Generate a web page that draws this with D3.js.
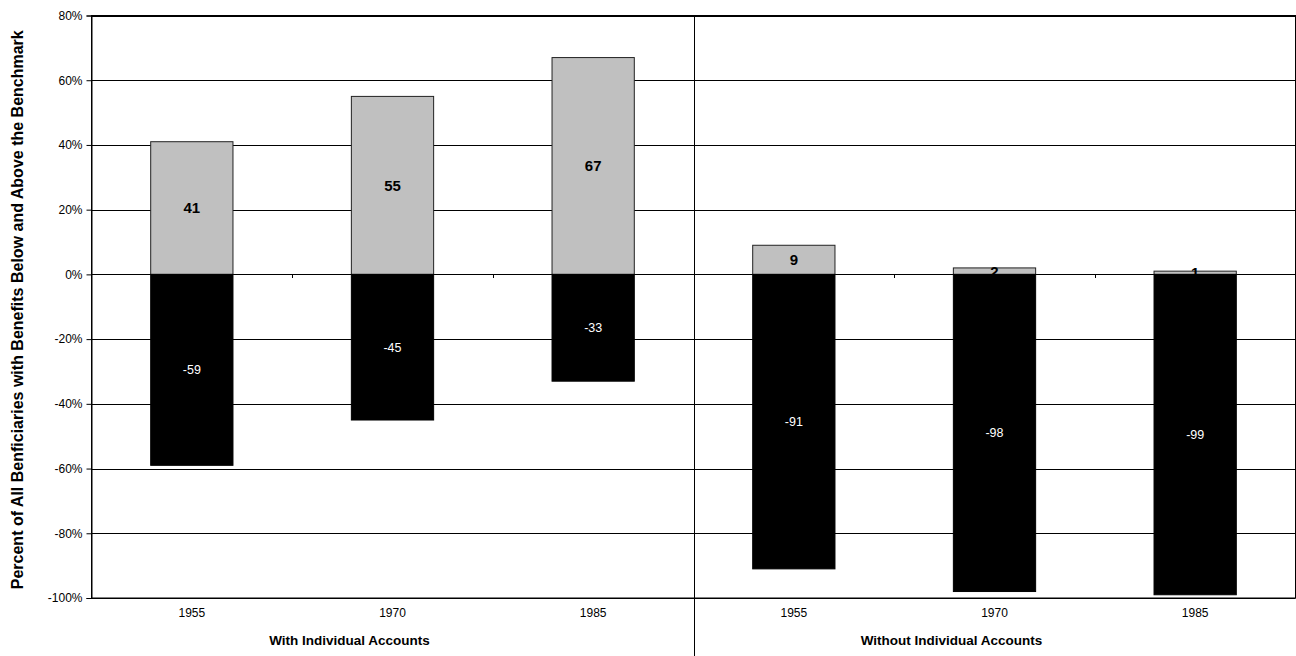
<!DOCTYPE html>
<html>
<head>
<meta charset="utf-8">
<script src="https://cdn.jsdelivr.net/npm/d3@7"></script>
<style>
  html, body { margin: 0; padding: 0; background: #fff; }
  svg { display: block; font-family: Arial, "Liberation Sans", sans-serif; }
</style>
</head>
<body>
<svg id="chart" width="1296" height="656"></svg>
<script>
// ---- data ----
const categories = ["1955", "1970", "1985", "1955 ", "1970 ", "1985 "];
const yearLabels = ["1955", "1970", "1985", "1955", "1970", "1985"];
const groups = ["With Individual Accounts", "Without Individual Accounts"];
const aboveValues = [41, 55, 67, 9, 2, 1];
const belowValues = [-59, -45, -33, -91, -98, -99];
const yTicks = [-100, -80, -60, -40, -20, 0, 20, 40, 60, 80];
const yTitle = "Percent of All Benficiaries with Benefits Below and Above the Benchmark";

// ---- layout ----
const W = 1296, H = 656;
const m = { left: 91.5, right: 0.5, top: 15.5, bottom: 58 };
const svg = d3.select("#chart");

const x = d3.scaleBand().domain(categories).range([m.left, W - m.right]).paddingInner(0).paddingOuter(0);
const y = d3.scaleLinear().domain([-100, 80]).range([H - m.bottom, m.top]);
const barW = x.bandwidth() * 0.41;

// gridlines
svg.append("g").selectAll("line").data(yTicks).join("line")
  .attr("x1", m.left).attr("x2", W - m.right)
  .attr("y1", d => Math.round(y(d)) + 0.5).attr("y2", d => Math.round(y(d)) + 0.5)
  .attr("stroke", "#000").attr("stroke-width", 1);

// bars above
svg.append("g").selectAll("rect").data(aboveValues).join("rect")
  .attr("x", (d, i) => x(categories[i]) + (x.bandwidth() - barW) / 2)
  .attr("y", d => y(d))
  .attr("width", barW)
  .attr("height", d => y(0) - y(d))
  .attr("fill", "#c0c0c0").attr("stroke", "#222").attr("stroke-width", 1);

// bars below
svg.append("g").selectAll("rect").data(belowValues).join("rect")
  .attr("x", (d, i) => x(categories[i]) + (x.bandwidth() - barW) / 2)
  .attr("y", y(0))
  .attr("width", barW)
  .attr("height", d => y(d) - y(0))
  .attr("fill", "#000").attr("stroke", "#000").attr("stroke-width", 1);

// zero-line ticks at category boundaries
svg.append("g").selectAll("line").data(categories.slice(1)).join("line")
  .attr("x1", d => Math.round(x(d)) + 0.5).attr("x2", d => Math.round(x(d)) + 0.5)
  .attr("y1", Math.round(y(0))).attr("y2", Math.round(y(0)) + 4)
  .attr("stroke", "#000");

// plot frame
svg.append("rect")
  .attr("x", m.left).attr("y", m.top)
  .attr("width", W - m.right - m.left).attr("height", y(-100) - m.top)
  .attr("fill", "none").attr("stroke", "#000").attr("stroke-width", 1);

// group separator
svg.append("line")
  .attr("x1", Math.round(x(categories[3])) + 0.5).attr("x2", Math.round(x(categories[3])) + 0.5)
  .attr("y1", m.top).attr("y2", H)
  .attr("stroke", "#000").attr("stroke-width", 1);

// y axis
const yAxis = d3.axisLeft(y).tickValues(yTicks).tickFormat(d => d + "%").tickSize(5).tickPadding(4);
const gy = svg.append("g").attr("transform", `translate(${m.left},0)`).call(yAxis);
gy.select(".domain").attr("stroke", "#000");
gy.selectAll(".tick line").attr("stroke", "#000");
gy.selectAll("text").attr("font-size", 12).attr("fill", "#000")
  .attr("font-family", "Arial, 'Liberation Sans', sans-serif");

// x axis labels
const xAxis = d3.axisBottom(x).tickSize(0).tickPadding(10).tickFormat((d, i) => yearLabels[i]);
const gx = svg.append("g").attr("transform", `translate(0,${y(-100)})`).call(xAxis);
gx.select(".domain").remove();
gx.selectAll("text").attr("font-size", 12).attr("fill", "#000")
  .attr("font-family", "Arial, 'Liberation Sans', sans-serif");

// group labels
svg.append("g").selectAll("text").data(groups).join("text")
  .attr("x", (d, i) => x(categories[i * 3 + 1]) + x.bandwidth() / 2 - 43)
  .attr("y", 645)
  .attr("text-anchor", "middle")
  .attr("font-size", 13.5).attr("font-weight", "bold").attr("fill", "#000")
  .text(d => d);

// value labels
svg.append("g").selectAll("text").data(aboveValues).join("text")
  .attr("x", (d, i) => x(categories[i]) + x.bandwidth() / 2)
  .attr("y", d => (y(d) + y(0)) / 2)
  .attr("dy", "0.36em")
  .attr("text-anchor", "middle")
  .attr("font-size", 15).attr("font-weight", "bold").attr("fill", "#000")
  .text(d => d);

svg.append("g").selectAll("text").data(belowValues).join("text")
  .attr("x", (d, i) => x(categories[i]) + x.bandwidth() / 2)
  .attr("y", d => (y(d) + y(0)) / 2)
  .attr("dy", "0.36em")
  .attr("text-anchor", "middle")
  .attr("font-size", 12.5).attr("fill", "#fff")
  .text(d => d);

// y title
svg.append("text")
  .attr("transform", `translate(23,${(m.top + y(-100)) / 2 + 3}) rotate(-90)`)
  .attr("text-anchor", "middle")
  .attr("font-size", 16).attr("font-weight", "bold").attr("fill", "#000")
  .text(yTitle);
</script>
</body>
</html>
